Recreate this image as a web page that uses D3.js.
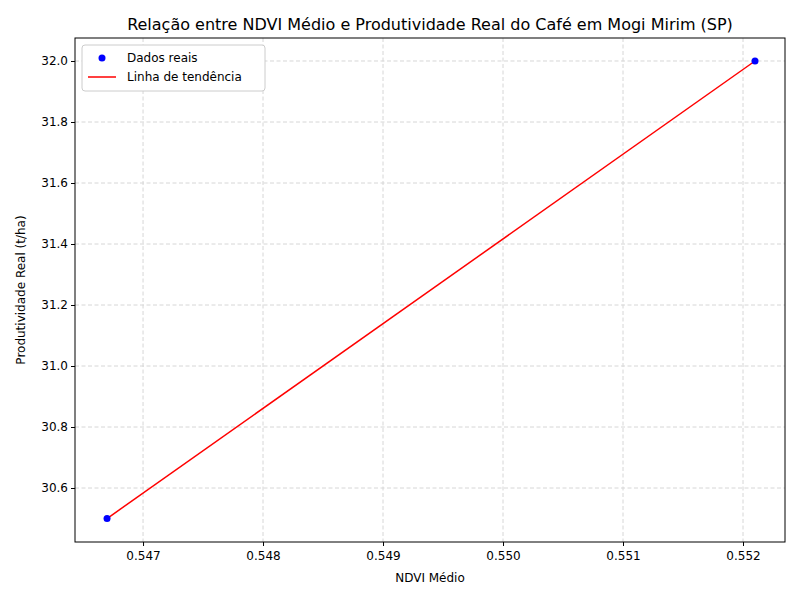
<!DOCTYPE html>
<html><head><meta charset="utf-8">
<script src="https://cdn.jsdelivr.net/npm/d3@7"></script>
<style>body{margin:0;background:#fff}text{font-family:"DejaVu Sans",sans-serif}</style>
</head><body><div id="chart"></div>
<script>
const ndvi = [0.5467, 0.5521]
const produtividade = [30.5, 32.0]
const trendX = [0.5467, 0.5521]
const trendY = [30.5, 32.0]
const xTicks = [0.547, 0.548, 0.549, 0.550, 0.551, 0.552]
const yTicks = [30.6, 30.8, 31.0, 31.2, 31.4, 31.6, 31.8, 32.0]

const width = 800, height = 600
const mLeft = 75, mRight = 785, mTop = 38, mBottom = 542

const svg = d3.select("#chart").append("svg").attr("width", width).attr("height", height)
const x = d3.scaleLinear().domain([0.546433, 0.55235]).range([mLeft, mRight])
const y = d3.scaleLinear().domain([30.423, 32.0754]).range([mBottom, mTop])

/* grid */
svg.append("g").selectAll("line").data(xTicks).enter().append("line")
    .attr("x1", d => x(d)).attr("x2", d => x(d)).attr("y1", mTop).attr("y2", mBottom)
    .attr("stroke", "#d6d6d6").attr("stroke-dasharray", "4,2.5")
svg.append("g").selectAll("line").data(yTicks).enter().append("line")
    .attr("y1", d => y(d)).attr("y2", d => y(d)).attr("x1", mLeft).attr("x2", mRight)
    .attr("stroke", "#d6d6d6").attr("stroke-dasharray", "4,2.5")

/* axes */
const xAxis = svg.append("g").attr("transform", `translate(0,${mBottom})`)
    .call(d3.axisBottom(x).tickValues(xTicks).tickFormat(d3.format(".3f")).tickSize(4).tickSizeOuter(0))
const yAxis = svg.append("g").attr("transform", `translate(${mLeft},0)`)
    .call(d3.axisLeft(y).tickValues(yTicks).tickFormat(d3.format(".1f")).tickSize(4).tickSizeOuter(0))
for (const a of [xAxis, yAxis]) {
    a.selectAll("text").attr("font-size", 12).attr("fill", "black").style("font-family", "DejaVu Sans")
    a.select(".domain").remove()
}
xAxis.selectAll("text").attr("dy", "0.95em")
svg.append("rect").attr("x", mLeft).attr("y", mTop).attr("width", mRight - mLeft).attr("height", mBottom - mTop)
    .attr("fill", "none").attr("stroke", "black").attr("stroke-width", 1)

/* trend line */
svg.append("path").datum(d3.range(trendX.length))
    .attr("d", d3.line().x(i => x(trendX[i])).y(i => y(trendY[i])))
    .attr("stroke", "red").attr("stroke-width", 1.5).attr("fill", "none")

/* points */
svg.selectAll(".pt").data(ndvi).enter().append("circle")
    .attr("cx", d => x(d)).attr("cy", (_, i) => y(produtividade[i]))
    .attr("r", 3.5).attr("fill", "blue")

/* labels */
svg.append("text").attr("x", (mLeft + mRight) / 2).attr("y", 30).attr("text-anchor", "middle")
    .attr("font-size", 16).text("Relação entre NDVI Médio e Produtividade Real do Café em Mogi Mirim (SP)")
svg.append("text").attr("x", (mLeft + mRight) / 2).attr("y", 582).attr("text-anchor", "middle")
    .attr("font-size", 12).text("NDVI Médio")
svg.append("text").attr("transform", `translate(25,${(mTop + mBottom) / 2}) rotate(-90)`)
    .attr("text-anchor", "middle").attr("font-size", 12).text("Produtividade Real (t/ha)")

/* legend */
svg.append("rect").attr("x", 82).attr("y", 45).attr("width", 183).attr("height", 46).attr("rx", 3)
    .attr("fill", "white").attr("stroke", "#ccc")
svg.append("circle").attr("cx", 102).attr("cy", 58).attr("r", 3.5).attr("fill", "blue")
svg.append("text").attr("x", 127).attr("y", 62).attr("font-size", 12).text("Dados reais")
svg.append("line").attr("x1", 88).attr("x2", 116).attr("y1", 77).attr("y2", 77)
    .attr("stroke", "red").attr("stroke-width", 1.5)
svg.append("text").attr("x", 127).attr("y", 81).attr("font-size", 12).text("Linha de tendência")
</script></body></html>
